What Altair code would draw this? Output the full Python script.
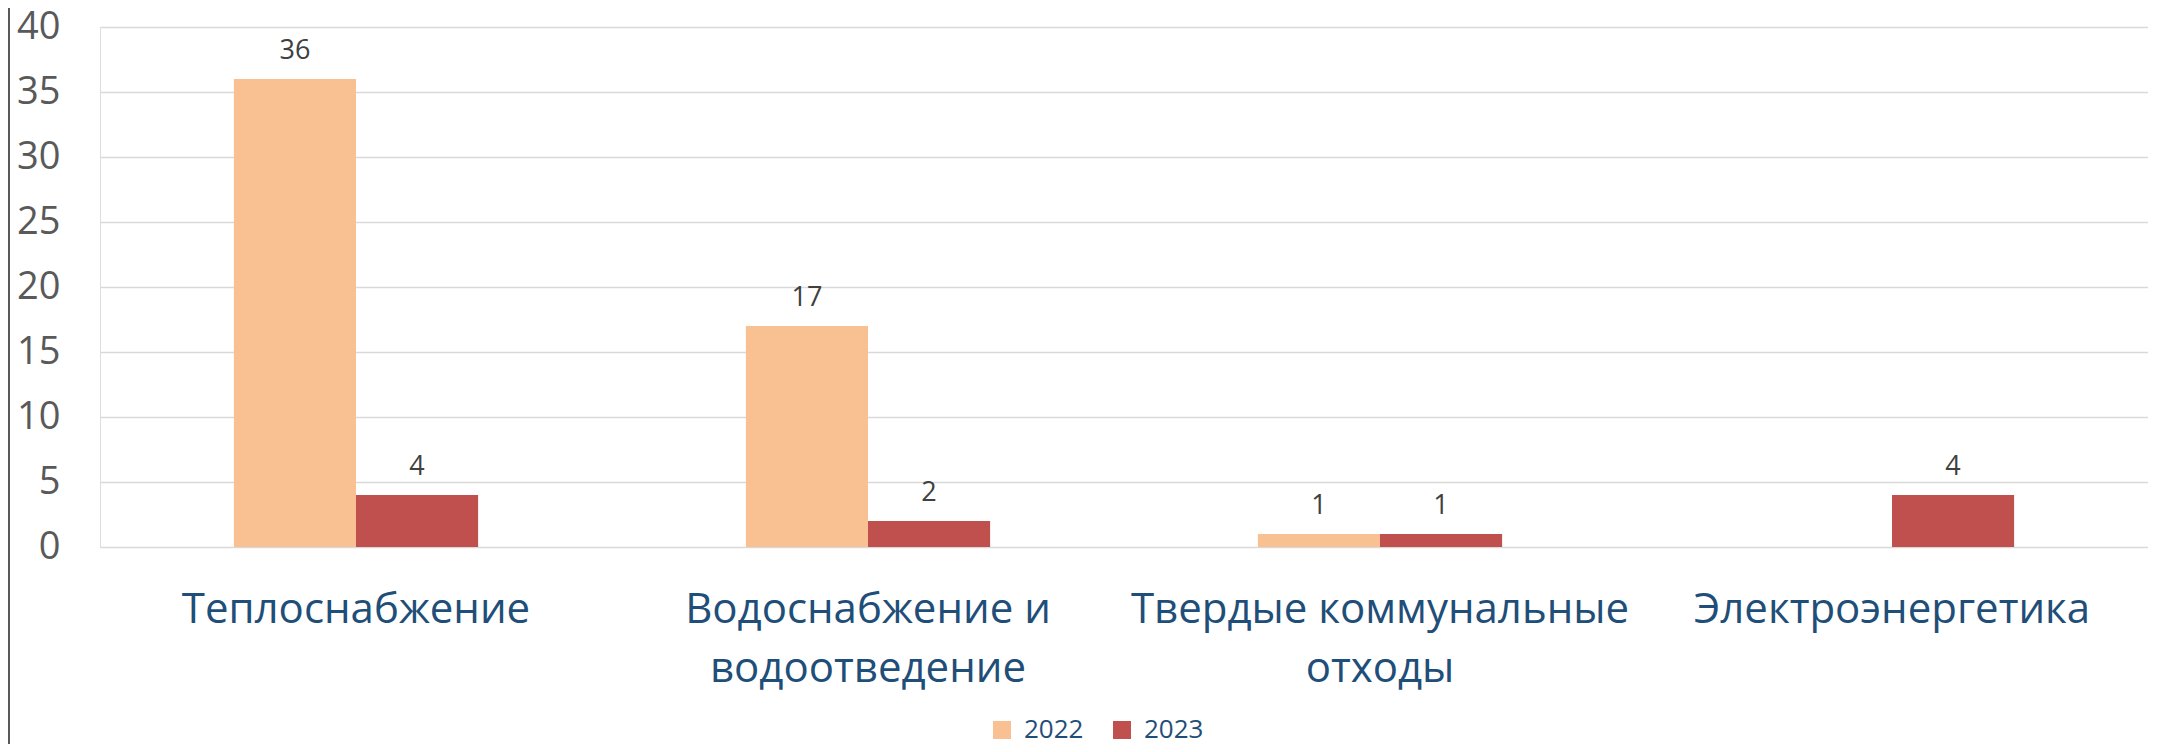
import altair as alt
import pandas as pd

categories = ["Теплоснабжение", "Водоснабжение и водоотведение", "Твердые коммунальные отходы", "Электроэнергетика"]
wrapped = {
    "Теплоснабжение": ["Теплоснабжение"],
    "Водоснабжение и водоотведение": ["Водоснабжение и", "водоотведение"],
    "Твердые коммунальные отходы": ["Твердые коммунальные", "отходы"],
    "Электроэнергетика": ["Электроэнергетика"],
}
years = ["2022", "2023"]
values_2022 = [36, 17, 1, 0]
values_2023 = [4, 2, 1, 4]
colors = ["#F9C191", "#C0504D"]

rows = []
for c, v1, v2 in zip(categories, values_2022, values_2023):
    rows.append({"cat": c, "year": "2022", "value": v1})
    rows.append({"cat": c, "year": "2023", "value": v2})
df = pd.DataFrame(rows)
df = df[df["value"] > 0]

FONT = "Open Sans"

label_expr = ""
for c in categories:
    arr = "[" + ",".join("'" + s + "'" for s in wrapped[c]) + "]"
    label_expr += f"datum.value == '{c}' ? {arr} : "
label_expr += "datum.value"

x_enc = alt.X(
    "cat:N",
    sort=categories,
    scale=alt.Scale(paddingInner=0.523, paddingOuter=0.2615),
    axis=alt.Axis(
        title=None, labelAngle=0, domain=False, ticks=False,
        labelFont=FONT, labelFontSize=42, labelColor="#1F4E79",
        labelPadding=42, labelLineHeight=59, labelExpr=label_expr,
        labelLimit=0,
    ),
)
xoff = alt.XOffset("year:N", sort=years, scale=alt.Scale(paddingInner=0, paddingOuter=0))
y_enc = alt.Y(
    "value:Q",
    scale=alt.Scale(domain=[0, 40], nice=False),
    axis=alt.Axis(
        title=None, values=[0, 5, 10, 15, 20, 25, 30, 35, 40], domain=False, ticks=False,
        labelFont=FONT, labelFontSize=38, labelColor="#595959", labelPadding=40,
        gridColor="#D9D9D9", gridWidth=1.5,
    ),
)

base = alt.Chart(df)

bars = base.mark_bar().encode(
    x=x_enc,
    xOffset=xoff,
    y=y_enc,
    color=alt.Color(
        "year:N",
        scale=alt.Scale(domain=years, range=colors),
        legend=alt.Legend(
            title=None, orient="none", legendX=889, legendY=690, direction="horizontal",
            symbolType="square", symbolSize=324, symbolStrokeWidth=0,
            labelFont=FONT, labelFontSize=26, labelColor="#1F4E79",
            labelOffset=9, columnPadding=25, padding=0,
        ),
    ),
)

text = base.mark_text(font=FONT, fontSize=27, color="#404040", baseline="alphabetic", dy=-20).encode(
    x=alt.X("cat:N", sort=categories),
    xOffset=alt.XOffset("year:N", sort=years),
    y=alt.Y("value:Q"),
    text=alt.Text("value:Q"),
)

border = alt.Chart(alt.Data(values=[{"a": 1}])).mark_rule(color="#595959", strokeWidth=2).encode(
    x=alt.value(-91), y=alt.value(-19), y2=alt.value(717)
)

chart = alt.layer(bars, text, border).properties(
    width=2048, height=520,
    padding={"left": 92, "top": 19, "right": 0, "bottom": 197},
    autosize=alt.AutoSizeParams(type="none"),
).configure_view(stroke=None).configure(background="white")

chart.save("out.html", embed_options={"renderer": "svg", "actions": False})
